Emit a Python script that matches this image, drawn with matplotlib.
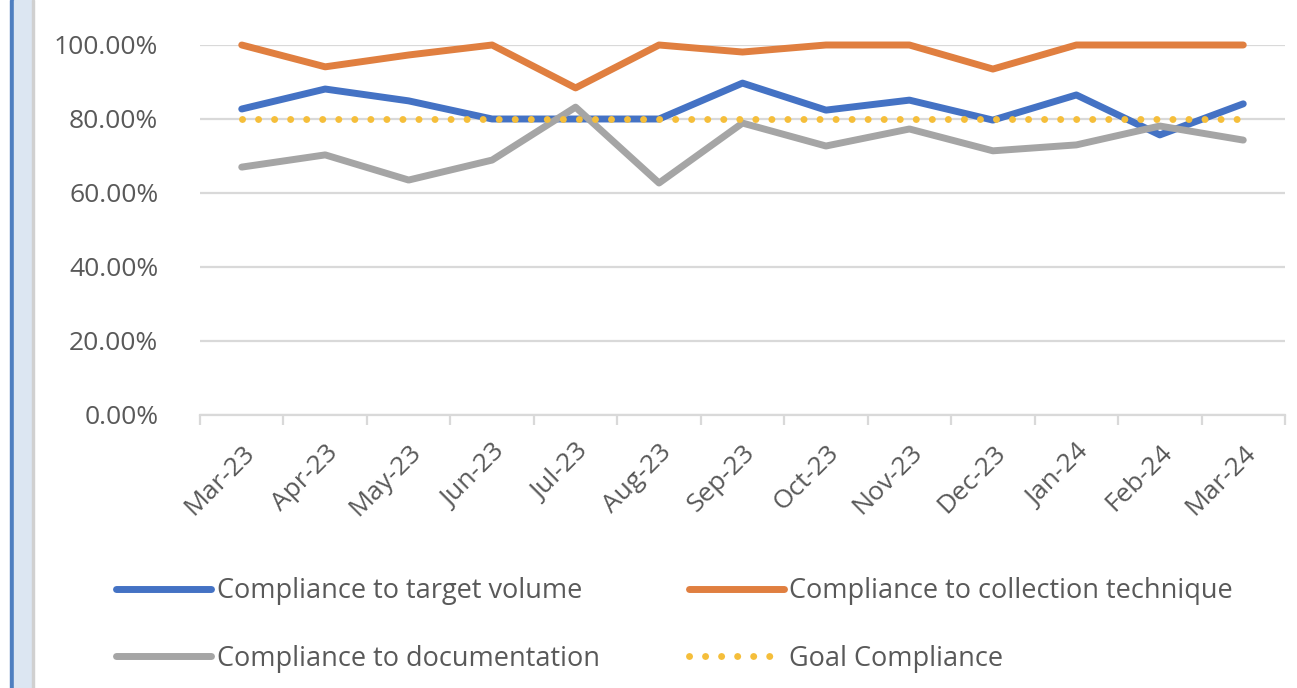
import matplotlib.pyplot as plt
from matplotlib.patches import Rectangle
from matplotlib.ticker import PercentFormatter, FixedLocator

months = ['Mar-23', 'Apr-23', 'May-23', 'Jun-23', 'Jul-23', 'Aug-23', 'Sep-23',
          'Oct-23', 'Nov-23', 'Dec-23', 'Jan-24', 'Feb-24', 'Mar-24']

target_volume = [0.827, 0.881, 0.849, 0.800, 0.800, 0.800, 0.897,
                 0.824, 0.851, 0.797, 0.865, 0.757, 0.841]
collection_technique = [1.000, 0.941, 0.973, 1.000, 0.884, 1.000, 0.981,
                        1.000, 1.000, 0.935, 1.000, 1.000, 1.000]
documentation = [0.670, 0.703, 0.635, 0.689, 0.832, 0.627, 0.789,
                 0.727, 0.773, 0.714, 0.730, 0.781, 0.743]
goal = [0.80] * 13

plt.rcParams['font.family'] = ['Open Sans', 'DejaVu Sans']

fig = plt.figure(figsize=(12.97, 6.88), dpi=100)
fig.patch.set_facecolor('white')

# frame on the left side (blue border, light fill, grey edge)
fig.patches.append(Rectangle((10 / 1297, 0), 4 / 1297, 1, transform=fig.transFigure,
                             color='#4f7fc0', zorder=0))
fig.patches.append(Rectangle((14 / 1297, 0), 18 / 1297, 1, transform=fig.transFigure,
                             color='#dce6f2', zorder=0))
fig.patches.append(Rectangle((32 / 1297, 0), 2 / 1297, 1, transform=fig.transFigure,
                             color='#d0d0d0', zorder=0))

ax = fig.add_axes([200 / 1297, 1 - 415 / 688, 1085 / 1297, 370 / 688])
x = list(range(len(months)))

ax.plot(x, target_volume, color='#4472C4', lw=5, solid_capstyle='round',
        solid_joinstyle='round', label='Compliance to target volume', zorder=3, clip_on=False)
ax.plot(x, collection_technique, color='#E07F40', lw=5, solid_capstyle='round',
        solid_joinstyle='round', label='Compliance to collection technique', zorder=3, clip_on=False)
ax.plot(x, documentation, color='#A5A5A5', lw=5, solid_capstyle='round',
        solid_joinstyle='round', label='Compliance to documentation', zorder=3, clip_on=False)
ax.plot(x, goal, color='#F5BE3A', lw=5, linestyle=(0, (0.01, 2.3)),
        dash_capstyle='round', label='Goal Compliance', zorder=4, clip_on=False)

ax.set_xlim(-0.5, len(months) - 0.5)
ax.set_ylim(0, 1.0)
ax.yaxis.set_major_locator(FixedLocator([0, 0.2, 0.4, 0.6, 0.8, 1.0]))
ax.yaxis.set_major_formatter(PercentFormatter(1.0, decimals=2))
ax.grid(axis='y', color='#d9d9d9', lw=1.6)
ax.set_axisbelow(True)

ax.set_xticks(x)
ax.set_xticklabels(months, rotation=45, ha='right', rotation_mode='anchor')
ax.set_xticks([i - 0.5 for i in range(len(months) + 1)], minor=True)
ax.tick_params(axis='x', which='major', length=0, pad=18, labelsize=19, labelcolor='#595959')
ax.tick_params(axis='x', which='minor', length=7, width=1.6, color='#d9d9d9')
ax.tick_params(axis='y', length=0, pad=30, labelsize=19, labelcolor='#595959')

for side in ['top', 'right', 'left']:
    ax.spines[side].set_visible(False)
ax.spines['bottom'].set_color('#d9d9d9')
ax.spines['bottom'].set_linewidth(1.6)

handles, labels = ax.get_legend_handles_labels()
order = [0, 2, 1, 3]
leg = fig.legend([handles[i] for i in order], [labels[i] for i in order],
                 ncol=2, loc='center left', bbox_to_anchor=(92 / 1297, 1 - 625 / 688),
                 frameon=False, fontsize=19.5, handlelength=3.5, handletextpad=0.2,
                 columnspacing=3.3, labelspacing=1.45, labelcolor='#595959')

fig.savefig('out.png', dpi=100)
